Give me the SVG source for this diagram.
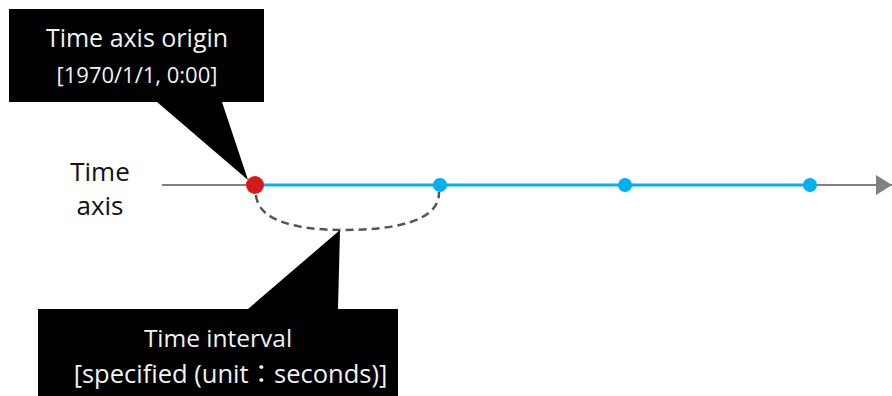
<svg xmlns="http://www.w3.org/2000/svg" width="892" height="396" viewBox="0 0 892 396">
  <style>
    .callout { fill: #000; }
    .ctext { fill: #f2f2f2; font-family: "Open Sans", "Noto Sans", "Noto Sans CJK JP", sans-serif; text-anchor: middle; }
    .label { fill: #111; font-family: "Open Sans", "Noto Sans", sans-serif; font-size: 26px; text-anchor: middle; }
    .tick { fill: #00b0f0; }
  </style>
  <defs>
    <marker id="arrow" viewBox="0 0 16 20" refX="16" refY="10" markerWidth="16" markerHeight="20" markerUnits="userSpaceOnUse" orient="auto">
      <path d="M0,0 L16,10 L0,20 Z" fill="#808080"/>
    </marker>
  </defs>

  <rect width="892" height="396" fill="#fff"/>

  <g id="connectors">
    <!-- base time axis -->
    <line x1="162" y1="185" x2="892" y2="185" stroke="#808080" stroke-width="2" marker-end="url(#arrow)"/>
    <!-- elapsed time segment -->
    <line x1="255" y1="185" x2="810" y2="185" stroke="#00b0f0" stroke-width="3"/>
    <!-- interval span -->
    <path d="M256,195 C258,222 300,230 343,230 C392,230 440,222 439,192" fill="none" stroke="#555" stroke-width="2.5" stroke-dasharray="8,5"/>
  </g>

  <g id="axis-label">
    <text class="label" x="100" y="181">Time</text>
    <text class="label" x="100" y="215">axis</text>
  </g>

  <g id="origin">
    <circle cx="255" cy="185" r="9" fill="#d7191c"/>
  </g>
  <g id="tick-1"><circle class="tick" cx="440" cy="185" r="7"/></g>
  <g id="tick-2"><circle class="tick" cx="625" cy="185" r="7"/></g>
  <g id="tick-3"><circle class="tick" cx="810" cy="185" r="7"/></g>

  <g id="origin-callout">
    <path class="callout" d="M9,9 H264 V102 H222 L248,180 L157,102 H9 Z"/>
    <text class="ctext" x="137" y="47" font-size="25">Time axis origin</text>
    <text class="ctext" x="137" y="83" font-size="22">[1970/1/1, 0:00]</text>
  </g>

  <g id="interval-callout">
    <path class="callout" d="M38,309 H248 L340,230 L338,309 H398 V396 H38 Z"/>
    <text class="ctext" x="218" y="347" font-size="24.5">Time interval</text>
    <text class="ctext" x="230.5" y="383" font-size="25.5">[specified (unit：seconds)]</text>
  </g>
</svg>
